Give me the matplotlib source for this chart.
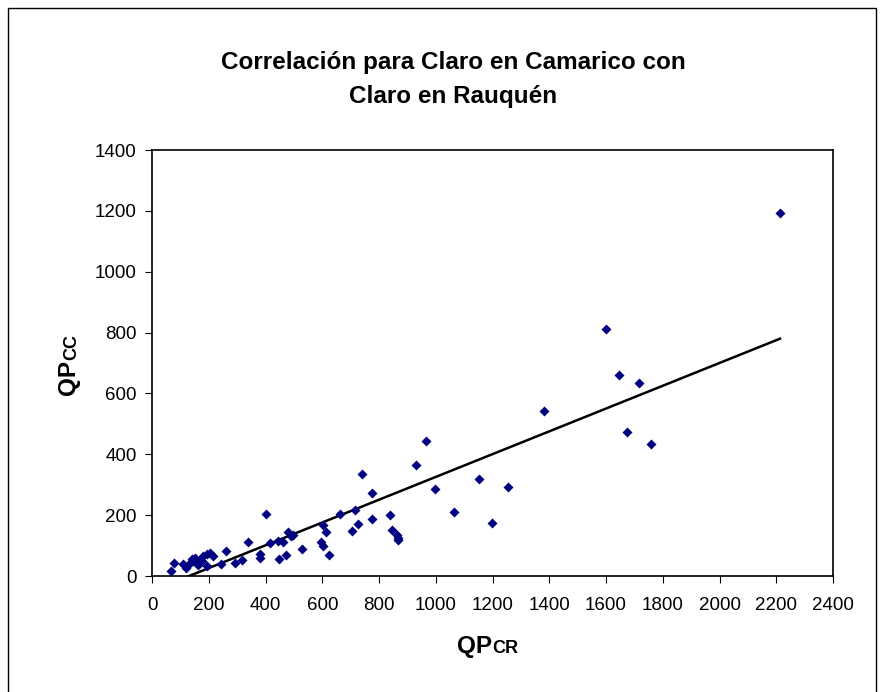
import matplotlib
matplotlib.use('Agg')
import matplotlib.pyplot as plt
from matplotlib.patches import Rectangle

plt.rcParams['font.family'] = ['Liberation Sans', 'DejaVu Sans']

# QP en Claro en Rauquén (x) y Claro en Camarico (y)
qp_cr = [66, 78, 108, 118, 134, 143, 152, 157, 163, 169, 181, 193, 204, 216, 195,
         140, 175, 242, 260, 292, 318, 337, 381, 381, 402, 417, 443, 449, 460, 473,
         480, 488, 496, 527, 597, 601, 603, 612, 624, 662, 704, 716, 726, 741, 775,
         775, 839, 847, 862, 868, 868, 931, 964, 998, 1065, 1152, 1199, 1254, 1381,
         1600, 1645, 1674, 1716, 1758, 2213]
qp_cc = [15, 44, 38, 28, 42, 50, 58, 45, 36, 53, 65, 72, 77, 66, 34,
         55, 48, 38, 82, 44, 53, 112, 72, 60, 203, 110, 116, 57, 112, 70,
         144, 130, 136, 89, 112, 169, 100, 144, 69, 203, 148, 218, 171, 336, 273,
         187, 199, 151, 134, 124, 118, 364, 443, 286, 210, 318, 175, 294, 542,
         812, 660, 473, 633, 434, 1193]

# linea de tendencia
pendiente = 0.3745
intercepto = -48.8

fig = plt.figure(figsize=(8.85, 6.92), dpi=100)
ax = fig.add_axes([0.1718, 0.1676, 0.7695, 0.6156])

ax.scatter(qp_cr, qp_cc, marker='D', s=26, color='#000080', zorder=3, linewidths=0)
xs = [min(qp_cr), max(qp_cr)]
ax.plot(xs, [pendiente * v + intercepto for v in xs], color='black', lw=1.8, zorder=2)

ax.set_xlim(0, 2400)
ax.set_ylim(0, 1400)
ax.set_xticks(range(0, 2401, 200))
ax.set_yticks(range(0, 1401, 200))
ax.tick_params(direction='out', length=5, labelsize=13.5, color='black')
ax.tick_params(axis='x', pad=10)
ax.tick_params(axis='y', pad=6)
for s in ax.spines.values():
    s.set_linewidth(1.2)

fig.text(453/885, 1 - 62/692, 'Correlación para Claro en Camarico con',
         ha='center', va='center', fontsize=17.5, fontweight='bold')
fig.text(453/885, 1 - 96/692, 'Claro en Rauquén',
         ha='center', va='center', fontsize=17.5, fontweight='bold')

# etiquetas de ejes (subindice en versalitas)
fig.text(492/885, 1 - 653/692, 'QP', ha='right', va='baseline', fontsize=17.5, fontweight='bold')
fig.text(492/885, 1 - 653/692, 'CR', ha='left', va='baseline', fontsize=13, fontweight='bold')
fig.text(80/885, 1 - 360/692, 'QP', ha='right', va='bottom', rotation=90,
         rotation_mode='anchor', fontsize=17.5, fontweight='bold')
fig.text(80/885, 1 - 360/692, 'CC', ha='left', va='bottom', rotation=90,
         rotation_mode='anchor', fontsize=13, fontweight='bold')

fig.patches.append(Rectangle((8/885, -0.05), 868/885, 1.05 - 8/692, transform=fig.transFigure,
                             fill=False, edgecolor='black', lw=1))

plt.savefig('out.png', dpi=100)
